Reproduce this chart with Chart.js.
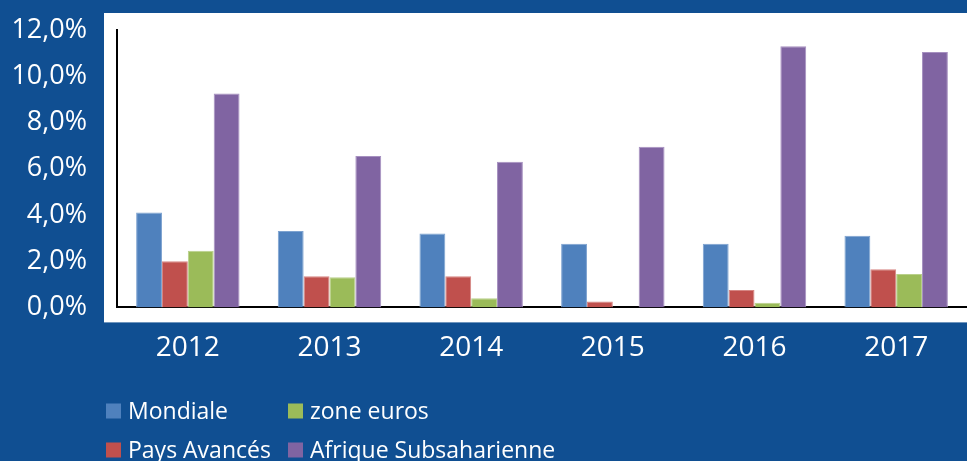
<!DOCTYPE html>
<html lang="fr">
<head>
  <meta charset="UTF-8">
  <title>Inflation 2012-2017</title>
  <script src="https://cdn.jsdelivr.net/npm/chart.js"></script>
  <style>
    body {
      margin: 0;
      background: #104f92;
    }
    canvas {
      display: block;
    }
  </style>
</head>
<body>

<canvas id="inflationChart" width="967" height="461"></canvas>

<script>
// données
const annees = ['2012', '2013', '2014', '2015', '2016', '2017'];
const mondiale = [4.1, 3.3, 3.2, 2.75, 2.75, 3.1];
const paysAvances = [2.0, 1.35, 1.35, 0.25, 0.75, 1.65];
const zoneEuros = [2.45, 1.3, 0.4, 0.0, 0.2, 1.45];
const afrique = [9.25, 6.55, 6.3, 6.95, 11.3, 11.05];
const graduations = [0, 2, 4, 6, 8, 10, 12];

const police = "'Open Sans', sans-serif";

// fond bleu + cadre blanc derrière le graphique
const fondPlugin = {
  id: 'fond',
  beforeDraw(chart) {
    const c = chart.ctx;
    const a = chart.chartArea;
    c.save();
    c.fillStyle = '#104f92';
    c.fillRect(0, 0, chart.width, chart.height);
    c.fillStyle = '#ffffff';
    c.fillRect(a.left - 13, a.top - 17, chart.width - (a.left - 13), a.bottom - a.top + 32);
    c.restore();
  }
};

// légende sur deux colonnes comme dans Excel
const legendePlugin = {
  id: 'legende',
  afterDraw(chart) {
    const c = chart.ctx;
    const ordre = [0, 2, 1, 3];
    const colonnes = [106, 288];
    const lignes = [411, 450];
    c.save();
    c.font = '23px ' + police;
    c.textBaseline = 'middle';
    ordre.forEach((idx, i) => {
      const ds = chart.data.datasets[idx];
      const x = colonnes[i % 2];
      const y = lignes[Math.floor(i / 2)];
      c.fillStyle = ds.backgroundColor;
      c.fillRect(x, y - 7.5, 15, 15);
      c.fillStyle = '#ffffff';
      c.fillText(ds.label, x + 22, y + 1);
    });
    c.restore();
  }
};

const ctx = document.getElementById('inflationChart').getContext('2d');

new Chart(ctx, {
  type: 'bar',
  data: {
    labels: annees,
    datasets: [
      { label: 'Mondiale', data: mondiale, backgroundColor: '#4f81bd', borderColor: '#7ea3d0', borderWidth: 1 },
      { label: 'Pays Avancés', data: paysAvances, backgroundColor: '#c0504d', borderColor: '#d68683', borderWidth: 1 },
      { label: 'zone euros', data: zoneEuros, backgroundColor: '#9bbb59', borderColor: '#b9d08a', borderWidth: 1 },
      { label: 'Afrique Subsaharienne', data: afrique, backgroundColor: '#8064a2', borderColor: '#a690c0', borderWidth: 1 }
    ]
  },
  options: {
    responsive: false,
    animation: false,
    layout: {
      padding: { top: 30, right: 0, bottom: 72, left: 0 }
    },
    datasets: {
      bar: {
        categoryPercentage: 0.73,
        barPercentage: 1.0
      }
    },
    plugins: {
      legend: { display: false },
      tooltip: { enabled: false }
    },
    scales: {
      x: {
        grid: { display: false, drawTicks: false },
        border: { display: true, color: '#000000', width: 2 },
        afterFit(scale) { scale.paddingLeft = 0; scale.paddingRight = 0; },
        ticks: {
          color: '#ffffff',
          padding: 24,
          font: { family: police, size: 28 }
        }
      },
      y: {
        min: 0,
        max: 12,
        afterFit(scale) {
          scale.width = 117;
          scale.paddingTop = 0;
          scale.paddingBottom = 0;
        },
        afterBuildTicks(scale) { scale.ticks = graduations.map(v => ({ value: v })); },
        grid: { display: false, drawTicks: false },
        border: { display: true, color: '#000000', width: 2 },
        ticks: {
          color: '#ffffff',
          padding: 30,
          font: { family: police, size: 27 },
          callback: v => v.toFixed(1).replace('.', ',') + '%'
        }
      }
    }
  },
  plugins: [fondPlugin, legendePlugin]
});
</script>

</body>
</html>
